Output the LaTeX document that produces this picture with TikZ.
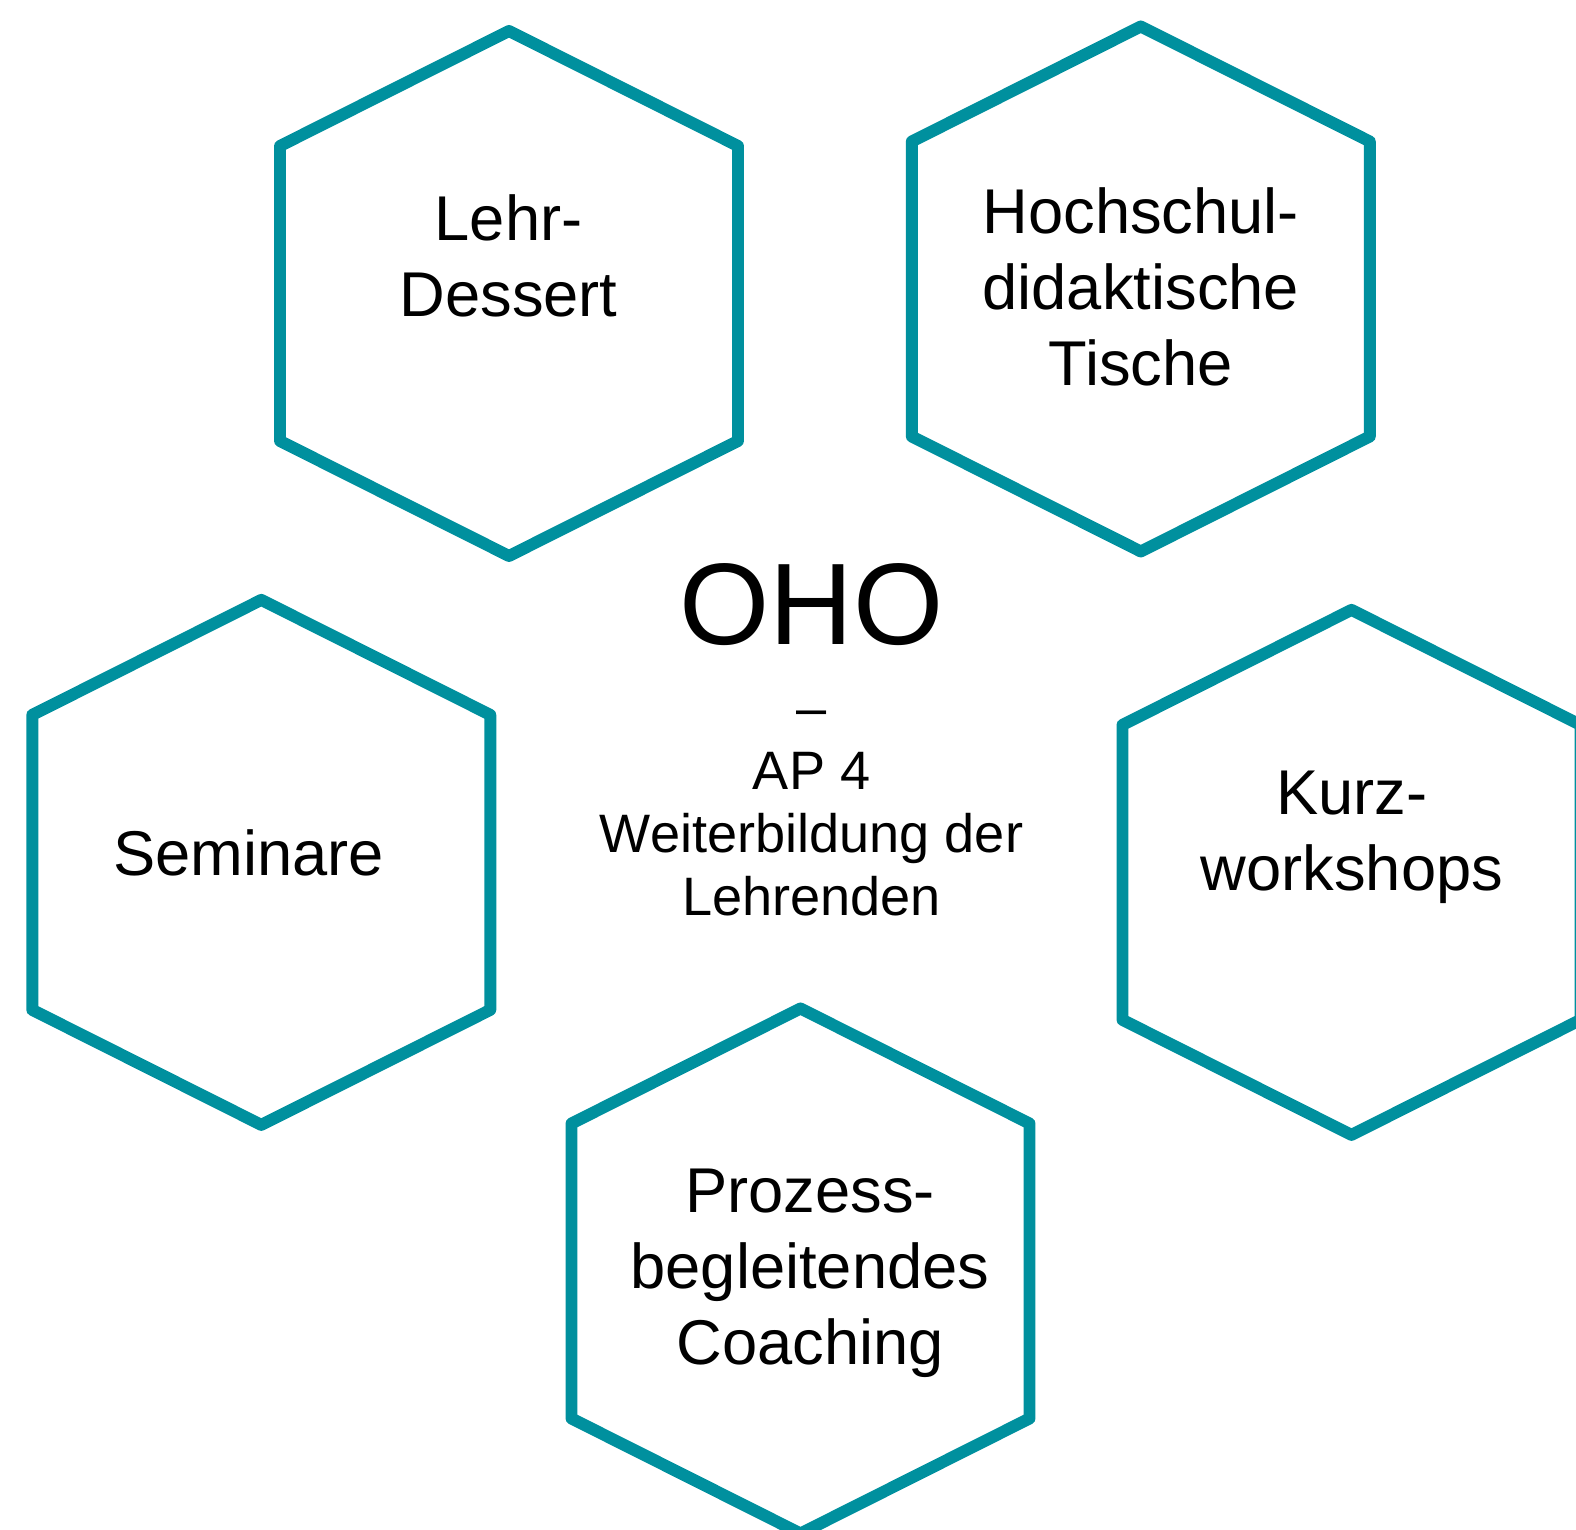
\documentclass[tikz,border=0pt]{standalone}
\usepackage{fontspec}
\setmainfont{Liberation Sans}
\usepackage{tikz}
\usepackage{xcolor}
\definecolor{hexteal}{RGB}{0,144,158}

\begin{document}
\begin{tikzpicture}[
  hexline/.style={draw=hexteal, line width=3.4pt, line join=round},
  hextext/.style={align=center, font=\fontsize{18}{21.7}\selectfont}
  ]
\useasboundingbox (0,0) rectangle (15.76,15.30);
% hexagons: half width 2.29, half height 2.625, half side 1.475
\foreach \name/\x/\y in {lehr/5.09/12.365, hochschul/11.408/12.41, seminare/2.613/6.676, kurz/13.515/6.576, prozess/8.005/2.59}
{
  \coordinate (\name) at (\x,\y);
  \draw [hexline] (\name) ++(0,2.625) -- ++(2.29,-1.15) -- ++(0,-2.95) -- ++(-2.29,-1.15)
    -- ++(-2.29,1.15) -- ++(0,2.95) -- cycle;
}
\node [hextext] (lehrtext) at (5.086,12.742) {Lehr-\\Dessert};
\node [hextext] (hochschultext) at (11.408,12.43) {Hochschul-\\didaktische\\Tische};
\node [hextext] (seminaretext) at (2.488,6.767) {Seminare};
\node [hextext] (kurztext) at (13.519,6.928) {Kurz-\\workshops};
\node [hextext] (prozesstext) at (8.10,2.565) {Prozess-\\begleitendes\\Coaching};
\node [align=center, font=\fontsize{15.4}{17.9}\selectfont] (oho) at (8.116,7.90) {{\fontsize{33}{38}\selectfont OHO}\\[5.5pt] –\\ AP 4\\ Weiterbildung der\\ Lehrenden};
\end{tikzpicture}
\end{document}
